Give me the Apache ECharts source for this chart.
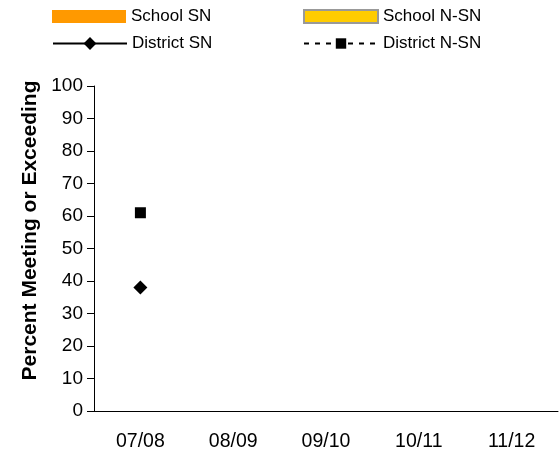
<!DOCTYPE html>
<html><head><meta charset="utf-8">
<script src="https://cdn.jsdelivr.net/npm/echarts@6/dist/echarts.min.js"></script>
<style>html,body{margin:0;padding:0;background:#fff}#c{width:560px;height:456px}</style>
</head><body><div id="c"></div>
<script>
var categories = ['07/08','08/09','09/10','10/11','11/12'];
var schoolSN = [null,null,null,null,null];
var schoolNSN = [null,null,null,null,null];
var districtSN = [38,null,null,null,null];
var districtNSN = [61,null,null,null,null];
var yTicks = [0,10,20,30,40,50,60,70,80,90,100];

var font = 'Liberation Sans, Arial, sans-serif';
function lg(left, top, name, h, icon) {
  var o = {left:left, top:top, padding:0, itemWidth:74, itemHeight:h, itemGap:4,
    textStyle:{fontSize:17,color:'#000',fontFamily:font}, data:[{name:name}]};
  if (icon) o.data[0].icon = icon;
  return o;
}
var chart = echarts.init(document.getElementById('c'));
chart.setOption({
  animation:false,
  textStyle:{fontFamily:font},
  grid:{left:94,right:2,top:86,bottom:45,containLabel:false},
  legend:[
    lg(52, 8, 'School SN', 13, 'rect'),
    lg(303, 8, 'School N-SN', 13, 'rect'),
    lg(52, 35, 'District SN', 16),
    lg(303, 35, 'District N-SN', 13)
  ],
  xAxis:{type:'category',data:categories,
    axisLine:{lineStyle:{color:'#000',width:1}},
    axisTick:{length:5,lineStyle:{color:'#000'}},
    axisLabel:{fontSize:19.5,color:'#000',margin:21,fontFamily:font}
  },
  yAxis:{type:'value',min:yTicks[0],max:yTicks[yTicks.length-1],interval:10,
    name:'Percent Meeting or Exceeding',nameLocation:'middle',nameGap:46,
    nameTextStyle:{fontSize:21,fontWeight:'bold',color:'#000',fontFamily:font,padding:[0,0,0,36]},
    axisLine:{show:true,lineStyle:{color:'#000',width:1}},
    axisTick:{show:true,length:7,lineStyle:{color:'#000'}},
    splitLine:{show:false},
    axisLabel:{fontSize:19,color:'#000',margin:11,fontFamily:font}
  },
  series:[
    {name:'School SN',type:'bar',data:schoolSN,itemStyle:{color:'#FF9900'}},
    {name:'School N-SN',type:'bar',data:schoolNSN,itemStyle:{color:'#FFCC00',borderColor:'#999999',borderWidth:2}},
    {name:'District SN',type:'line',data:districtSN,symbol:'diamond',symbolSize:14,
      lineStyle:{color:'#000',width:2},itemStyle:{color:'#000'}},
    {name:'District N-SN',type:'line',data:districtNSN,symbol:'rect',symbolSize:11,
      lineStyle:{color:'#000',width:2,type:[5,6]},itemStyle:{color:'#000'}}
  ]
});
</script></body></html>
